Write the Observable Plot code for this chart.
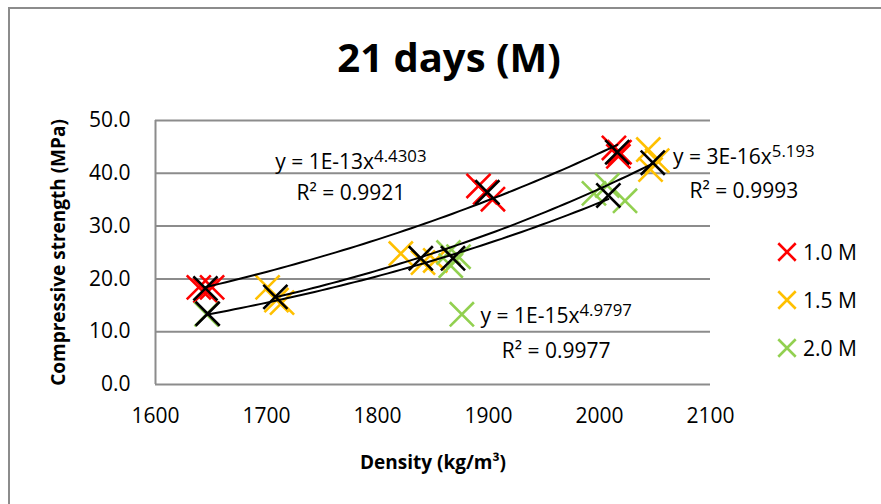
<!DOCTYPE html>
<html><head><meta charset="utf-8">
<script src="https://cdn.jsdelivr.net/npm/d3@7"></script>
<script src="https://cdn.jsdelivr.net/npm/@observablehq/plot@0.6"></script>
<style>
body{margin:0;background:#fff;}
#wrap{position:relative;width:881px;height:504px;overflow:hidden;font-family:"Open Sans",sans-serif;color:#000;}
#border{position:absolute;left:8px;top:7px;width:900px;height:600px;border-left:2px solid #8c8c8c;border-top:2px solid #8c8c8c;}
#title{position:absolute;left:0;width:898px;top:37px;line-height:40px;text-align:center;font-weight:bold;font-size:40px;}
#chart{position:absolute;left:0;top:0;}
#legend{position:absolute;left:777px;top:0;}
.item{position:absolute;left:0;height:24px;display:flex;align-items:center;white-space:nowrap;font-size:21px;}
.item svg{margin-right:6px;}
</style></head>
<body><div id="wrap"><div id="border"></div><div id="chart"></div><div id="title">21 days (M)</div><div id="legend"></div></div>
<script>
// ---- data ----
const seriesNames = ["1.0 M", "1.5 M", "2.0 M"];
const seriesColors = ["#FF0000", "#FFC000", "#92D050"];

// raw specimens
const x10 = [1639, 1645, 1651, 1891, 1897, 1904, 2013, 2017, 2018];
const y10 = [18.4, 17.8, 18.4, 37.6, 36.4, 35.1, 44.8, 43.2, 44.0];
const x15 = [1701, 1709, 1714, 1821, 1841, 1852, 2044, 2046, 2052];
const y15 = [18.4, 16.0, 15.5, 24.8, 23.1, 23.5, 44.5, 40.7, 42.4];
const x20 = [1646, 1864, 1866, 1873, 1876, 1995, 2007, 2023];
const y20 = [13.3, 25.0, 22.5, 24.2, 13.3, 36.2, 37.7, 34.8];

// averages (black markers, used for the power trendlines)
const avgX10 = [1645, 1899, 2016];
const avgY10 = [18.2, 36.4, 44.0];
const avgX15 = [1708, 1839, 2048];
const avgY15 = [16.6, 23.9, 42.0];
const avgX20 = [1647, 1868, 2008];
const avgY20 = [13.4, 23.9, 35.8];

// trendline labels
const eqText = ["y = 1E-13x^4.4303", "y = 3E-16x^5.193", "y = 1E-15x^4.9797"];
const r2Text = ["R² = 0.9921", "R² = 0.9993", "R² = 0.9977"];
const eqAnchorX = [1776, 2130, 1961];
const eqAnchorY = [40.9, 41.7, 11.7];
const r2AnchorY = [34.9, 35.3, 5.1];

const xTicks = [1600, 1700, 1800, 1900, 2000, 2100];
const yTicks = [0, 10, 20, 30, 40, 50];

// ---- build tables ----
const raw = [];
[[x10, y10], [x15, y15], [x20, y20]].forEach(([xs, ys], s) =>
  xs.forEach((x, i) => raw.push({series: seriesNames[s], x, y: ys[i]})));
const avg = [];
const avgSets = [[avgX10, avgY10], [avgX15, avgY15], [avgX20, avgY20]];
avgSets.forEach(([xs, ys], s) => xs.forEach((x, i) => avg.push({series: seriesNames[s], x, y: ys[i]})));

// power-law least squares fit in log space on the averages
const curves = [];
avgSets.forEach(([xs, ys], s) => {
  const lx = xs.map(Math.log), ly = ys.map(Math.log);
  const mx = d3.mean(lx), my = d3.mean(ly);
  const b = d3.sum(lx, (v, i) => (v - mx) * (ly[i] - my)) / d3.sum(lx, v => (v - mx) ** 2);
  const a = Math.exp(my - b * mx);
  const [x0, x1] = d3.extent(xs);
  for (let k = 0; k <= 60; k++) {
    const x = x0 + (x1 - x0) * k / 60;
    curves.push({series: seriesNames[s], x, y: a * Math.pow(x, b)});
  }
});

const ann = eqText.map((t, i) => ({eq: t, r2: r2Text[i], x: eqAnchorX[i], y: eqAnchorY[i], yr: r2AnchorY[i]}));

const color = {domain: seriesNames, range: seriesColors};
const gridColor = "#8c8c8c";

const chart = Plot.plot({
  width: 881, height: 504,
  marginLeft: 155, marginRight: 171, marginTop: 120, marginBottom: 120,
  style: {fontFamily: "'Open Sans', sans-serif", fontSize: "21px", color: "#000", background: "transparent", overflow: "visible"},
  x: {domain: [1600, 2100]},
  y: {domain: [0, 50]},
  color: color,
  marks: [
    Plot.gridY(yTicks.filter(d => d > 0), {stroke: gridColor, strokeOpacity: 1, strokeWidth: 2}),
    Plot.ruleX([1600], {stroke: gridColor, strokeWidth: 2}),
    Plot.ruleY([0], {stroke: gridColor, strokeWidth: 2}),
    Plot.axisY(yTicks, {tickSize: 0, tickPadding: 25, tickFormat: d => d.toFixed(1), label: null, fontSize: 21}),
    Plot.axisX(xTicks, {tickSize: 0, tickPadding: 24, tickFormat: d => String(d), label: null, fontSize: 21}),
    Plot.dot(raw, {x: "x", y: "y", symbol: "times", r: 11, stroke: "series", strokeWidth: 2.6}),
    Plot.line(curves, {x: "x", y: "y", z: "series", stroke: "#000", strokeWidth: 2}),
    Plot.dot(avg, {x: "x", y: "y", symbol: "times", r: 11, stroke: "#000", strokeWidth: 2.6}),
    Plot.text(ann, {x: "x", y: "y", text: "eq", textAnchor: "middle", lineAnchor: "bottom", fontSize: 21, fill: "#000"}),
    Plot.text(ann, {x: "x", y: "yr", text: "r2", textAnchor: "middle", lineAnchor: "bottom", fontSize: 21, fill: "#000"}),
    Plot.text(["Compressive strength (MPa)"], {frameAnchor: "left", dx: -97, rotate: -90, text: d => d, textAnchor: "middle", fontWeight: "bold", fontSize: 19, lineAnchor: "middle"}),
    Plot.text(["Density (kg/m³)"], {frameAnchor: "bottom", dy: 78, text: d => d, textAnchor: "middle", fontWeight: "bold", fontSize: 19, lineAnchor: "middle"})
  ]
});

// superscript exponents in the trendline equations
d3.select(chart).selectAll("text").each(function () {
  if (this.childElementCount || !this.textContent.includes("^")) return;
  const parts = this.textContent.split("^");
  const sel = d3.select(this);
  sel.text(parts[0]);
  sel.append("tspan").attr("dy", "-0.42em").attr("font-size", "0.8em").text(parts[1]);
});
document.getElementById("chart").appendChild(chart);

// legend
const legend = d3.select("#legend");
const rowY = [252, 300, 348];
const sym = d3.symbol(d3.symbolTimes, 200)();
seriesNames.forEach((name, i) => {
  const item = legend.append("div").attr("class", "item").style("top", (rowY[i] - 12) + "px");
  const svg = item.append("svg").attr("width", 20).attr("height", 20).attr("viewBox", "-10 -10 20 20");
  svg.append("path").attr("d", sym).attr("stroke", seriesColors[i]).attr("stroke-width", 2.6).attr("fill", "none");
  item.append("span").text(name);
});
</script></body></html>
